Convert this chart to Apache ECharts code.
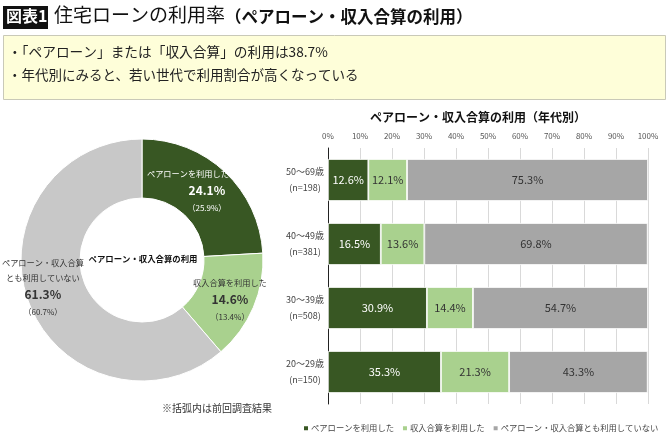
<!DOCTYPE html>
<html><head><meta charset="utf-8">
<script src="https://cdn.jsdelivr.net/npm/echarts@6/dist/echarts.min.js"></script>
<style>html,body{margin:0;padding:0;background:#fff}#c{width:670px;height:438px}</style>
</head><body><div id="c"></div>
<script>
// ---- data ----
const pieNames = ['ペアローンを利用した', '収入合算を利用した', 'ペアローン・収入合算とも利用していない'];
const pieLabelNames = ['ペアローンを利用した', '収入合算を利用した', 'ペアローン・収入合算\nとも利用していない'];
const pieValues = [24.1, 14.6, 61.3];
const piePrevValues = [25.9, 13.4, 60.7];
const ageGroups = ['50〜69歳\n(n=198)', '40〜49歳\n(n=381)', '30〜39歳\n(n=508)', '20〜29歳\n(n=150)'];
const pairLoan = [12.6, 16.5, 30.9, 35.3];
const incomeCombined = [12.1, 13.6, 14.4, 21.3];
const neither = [75.3, 69.8, 54.7, 43.3];
const barSeriesNames = ['ペアローンを利用した', '収入合算を利用した', 'ペアローン・収入合算とも利用していない'];

const FONT = '"Noto Sans CJK JP", "Noto Sans", sans-serif';
const C_DARK = '#385723', C_LIGHT = '#A9D18E', C_PIEGRAY = '#C8C8C8', C_BARGRAY = '#A6A6A6';

const chart = echarts.init(document.getElementById('c'), null, {renderer: 'canvas'});

const pieColors = [C_DARK, C_LIGHT, C_PIEGRAY];
const pieTextColors = ['#ffffff', '#333333', '#333333'];
const pieNamePad = [[0, 38, 0, 0], [0, 0, 0, 0], [0, 0, 0, 0]];
const pieBoxPad = [[0, 0, 0, 0], [6, 0, 0, 2], [0, 21, 10, 0]];
const pieData = pieValues.map((v, i) => ({
  name: pieNames[i], value: v,
  itemStyle: {color: pieColors[i]},
  label: {
    color: pieTextColors[i],
    overflow: 'none',
    formatter: () => `{n|${pieLabelNames[i].split('\n').join('}\n{n|')}}\n{v|${v.toFixed(1)}%}\n{p|（${piePrevValues[i].toFixed(1)}%）}`,
    padding: pieBoxPad[i],
    rich: {
      n: {fontSize: 8.2, color: pieTextColors[i], lineHeight: 15, fontFamily: FONT, padding: pieNamePad[i]},
      v: {fontSize: 12, fontWeight: 'bold', color: pieTextColors[i], lineHeight: 19, fontFamily: FONT},
      p: {fontSize: 8, color: pieTextColors[i], lineHeight: 16, fontFamily: FONT}
    }
  }
}));

const barColors = [C_DARK, C_LIGHT, C_BARGRAY];
const barTextColors = ['#ffffff', '#333333', '#333333'];
const barData = [pairLoan, incomeCombined, neither];

const option = {
  animation: false,
  textStyle: {fontFamily: FONT},
  graphic: [
    {type: 'rect', shape: {x: 3, y: 6, width: 45, height: 23}, style: {fill: '#111111'}},
    {type: 'text', x: 6, y: 8, style: {text: '図表1', fill: '#ffffff', font: 'bold 16px ' + FONT}},
    {type: 'text', x: 54, y: 5, style: {text: '住宅ローンの利用率', fill: '#111111', font: '19px ' + FONT}},
    {type: 'text', x: 225, y: 8, style: {text: '（ペアローン・収入合算の利用）', fill: '#111111', font: 'bold 16.5px ' + FONT}},
    {type: 'rect', shape: {x: 3.5, y: 35.5, width: 662, height: 64}, style: {fill: '#FEFED9', stroke: '#C9C9B8', lineWidth: 1}},
    {type: 'text', x: 8, y: 45, style: {text: '・「ペアローン」または「収入合算」の利用は38.7%', fill: '#222222', font: '13.7px ' + FONT}},
    {type: 'text', x: 8, y: 68, style: {text: '・年代別にみると、若い世代で利用割合が高くなっている', fill: '#222222', font: '13.5px ' + FONT}},
    {type: 'text', x: 143, y: 259, style: {text: 'ペアローン・収入合算の利用', fill: '#111111', font: 'bold 8.4px ' + FONT, align: 'center', verticalAlign: 'middle'}},
    {type: 'text', x: 162, y: 408, style: {text: '※括弧内は前回調査結果', fill: '#333333', font: '10px ' + FONT, verticalAlign: 'middle'}},
    {type: 'text', x: 478, y: 117, style: {text: 'ペアローン・収入合算の利用（年代別）', fill: '#111111', font: 'bold 12px ' + FONT, align: 'center', verticalAlign: 'middle'}}
  ],
  legend: {
    data: barSeriesNames,
    left: 297, top: 419, width: 374,
    itemWidth: 6, itemHeight: 6, itemGap: 7,
    icon: 'rect',
    textStyle: {fontSize: 8.3, color: '#444', fontFamily: FONT, padding: [0, 0, 0, -3]}
  },
  grid: {left: 328, right: 22, top: 148, bottom: 34, containLabel: false},
  xAxis: {
    type: 'value', position: 'top', min: 0, max: 100, interval: 10,
    axisLine: {show: false}, axisTick: {show: false},
    axisLabel: {formatter: '{value}%', fontSize: 8, color: '#555', margin: 8, fontFamily: FONT},
    splitLine: {show: true, lineStyle: {color: '#D9D9D9', width: 1}}
  },
  yAxis: {
    type: 'category', data: ageGroups, inverse: true,
    axisLine: {show: true, lineStyle: {color: '#222', width: 1}},
    axisTick: {show: false},
    axisLabel: {fontSize: 9, color: '#444', lineHeight: 16, margin: 23, fontFamily: FONT, align: 'center'},
    splitLine: {show: false}
  },
  series: [
    {
      type: 'pie', center: [142, 260], radius: [62, 121], startAngle: 90, clockwise: true,
      silent: true, legendHoverLink: false,
      itemStyle: {borderColor: '#ffffff', borderWidth: 1},
      label: {show: true, position: 'inside', fontFamily: FONT},
      labelLine: {show: false},
      data: pieData
    }
  ].concat(barData.map((arr, i) => ({
    type: 'bar', name: barSeriesNames[i], stack: 'total', data: arr,
    barWidth: 42,
    itemStyle: {color: barColors[i], borderColor: '#ffffff', borderWidth: 0.8},
    label: {show: true, position: 'inside', formatter: p => p.value.toFixed(1) + '%', color: barTextColors[i], fontSize: 11, fontFamily: FONT}
  })))
};
chart.setOption(option);
</script>
</body></html>
